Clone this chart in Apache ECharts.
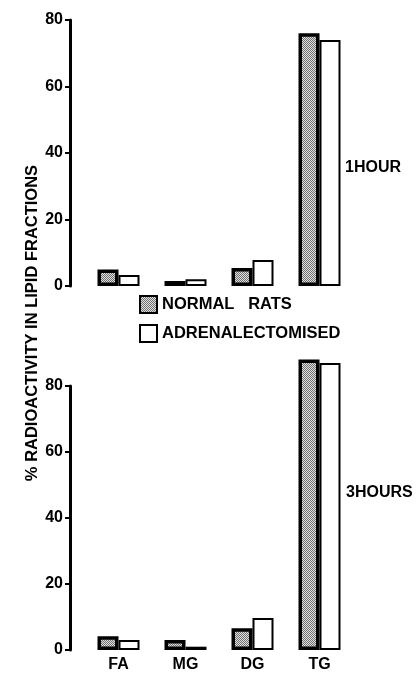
<!DOCTYPE html>
<html><head><meta charset="utf-8">
<script src="https://cdn.jsdelivr.net/npm/echarts@6/dist/echarts.min.js"></script>
<style>html,body{margin:0;padding:0;background:#fff}#c{width:420px;height:673px}</style>
</head><body><div id="c"></div>
<script>
const categories = ['FA', 'MG', 'DG', 'TG'];
const normal1h = [5, 1.5, 5.4, 76];
const adrenal1h = [3.3, 2, 7.8, 74];
const normal3h = [4.2, 3, 6.6, 88];
const adrenal3h = [3, 1, 9.7, 87];
const yTicks = [0, 20, 40, 60, 80];
const seriesNames = ['NORMAL   RATS', 'ADRENALECTOMISED'];
const panelLabels = ['1HOUR', '3HOURS'];
const yTitle = '% RADIOACTIVITY IN LIPID FRACTIONS';

const pc = document.createElement('canvas');
pc.width = 2; pc.height = 2;
const g = pc.getContext('2d');
g.fillStyle = '#e0e0e0'; g.fillRect(0, 0, 2, 2);
g.fillStyle = '#707070';
g.fillRect(0, 0, 1, 1); g.fillRect(1, 1, 1, 1);
const stipple = { image: pc, repeat: 'repeat' };

const FONT = 'Liberation Sans, Arial, sans-serif';
const chart = echarts.init(document.getElementById('c'), null, { renderer: 'canvas' });

function yAx(gi) {
  return {
    gridIndex: gi, type: 'value', min: yTicks[0], max: yTicks[yTicks.length - 1], interval: 20,
    offset: 15,
    axisLine: { show: true, lineStyle: { color: '#000', width: 3 } },
    axisTick: { show: true, length: 5, lineStyle: { color: '#000', width: 2 } },
    axisLabel: { color: '#000', fontFamily: FONT, fontWeight: 'bold', fontSize: 16, margin: 7 },
    splitLine: { show: false }
  };
}
function xAx(gi, showLabel) {
  return {
    gridIndex: gi, type: 'category', data: categories,
    axisLine: { show: false }, axisTick: { show: false },
    axisLabel: { show: showLabel, color: '#000', fontFamily: FONT, fontWeight: 'bold', fontSize: 16, margin: 7 }
  };
}
function normalSeries(gi, data) {
  return {
    name: seriesNames[0], type: 'bar', xAxisIndex: gi, yAxisIndex: gi, data: data,
    barWidth: 21, barGap: '0%', clip: false,
    itemStyle: { color: stipple, borderColor: '#000', borderWidth: 3.5 }
  };
}
function adrSeries(gi, data) {
  return {
    name: seriesNames[1], type: 'bar', xAxisIndex: gi, yAxisIndex: gi, data: data,
    barWidth: 21, barGap: '0%', clip: false,
    itemStyle: { color: '#fff', borderColor: '#000', borderWidth: 2 }
  };
}

chart.setOption({
  animation: false,
  backgroundColor: '#fff',
  grid: [
    { left: 85, width: 268, top: 20, height: 266 },
    { left: 85, width: 268, top: 386, height: 266 }
  ],
  xAxis: [xAx(0, false), xAx(1, true)],
  yAxis: [yAx(0), yAx(1)],
  legend: {
    orient: 'vertical', left: 139, top: 295, padding: 0, itemWidth: 17, itemHeight: 17, itemGap: 10,
    icon: 'rect',
    data: seriesNames,
    textStyle: { color: '#000', fontFamily: FONT, fontWeight: 'bold', fontSize: 16.5 }
  },
  graphic: [
    { type: 'text', left: 345, top: 160, style: { text: panelLabels[0], fill: '#000', font: 'bold 16px ' + FONT } },
    { type: 'text', left: 346, top: 485, style: { text: panelLabels[1], fill: '#000', font: 'bold 16px ' + FONT } },
    { type: 'text', x: 32, y: 323, rotation: Math.PI / 2,
      style: { text: yTitle, fill: '#000', font: 'bold 16.5px ' + FONT, align: 'center', verticalAlign: 'middle' } }
  ],
  series: [
    normalSeries(0, normal1h), adrSeries(0, adrenal1h),
    normalSeries(1, normal3h), adrSeries(1, adrenal3h)
  ]
});
</script></body></html>
